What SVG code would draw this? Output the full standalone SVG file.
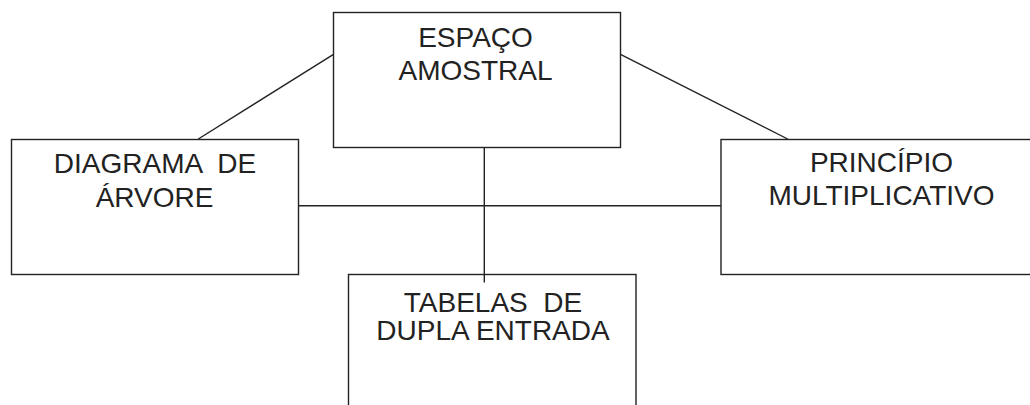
<svg xmlns="http://www.w3.org/2000/svg" width="1030" height="405" viewBox="0 0 1030 405">
<style>
.box{fill:#fff;stroke:#222;stroke-width:1.4}
.lbl{font-family:"Liberation Sans",Arial,sans-serif;font-size:28px;fill:#222;text-anchor:middle}
.conn line{stroke:#222;stroke-width:1.4}
</style>
<rect width="1030" height="405" fill="#fff"/>
<g id="espaco">
<rect class="box" x="333.5" y="12.5" width="287" height="135"/>
<text class="lbl" x="475.5" y="46.5">ESPAÇO</text>
<text class="lbl" x="475.5" y="80">AMOSTRAL</text>
</g>
<g id="diagrama">
<rect class="box" x="11.5" y="139.5" width="287" height="135"/>
<text class="lbl" x="155" y="173.3" xml:space="preserve">DIAGRAMA  DE</text>
<text class="lbl" x="154.5" y="207.3">ÁRVORE</text>
</g>
<g id="principio">
<rect class="box" x="721" y="139.5" width="330" height="135"/>
<text class="lbl" x="881.5" y="172.3">PRINCÍPIO</text>
<text class="lbl" x="881.5" y="205">MULTIPLICATIVO</text>
</g>
<g id="tabelas">
<rect class="box" x="348.5" y="274.5" width="287.5" height="145"/>
<text class="lbl" x="493" y="311.7" xml:space="preserve">TABELAS  DE</text>
<text class="lbl" x="493" y="340">DUPLA ENTRADA</text>
</g>
<g id="connectors" class="conn">
<line x1="333.5" y1="54.3" x2="198.3" y2="139"/>
<line x1="620.5" y1="54.3" x2="787.7" y2="139"/>
<line x1="298.5" y1="205.8" x2="721" y2="205.8"/>
<line x1="484.3" y1="148" x2="484.3" y2="282.5"/>
</g>
</svg>
